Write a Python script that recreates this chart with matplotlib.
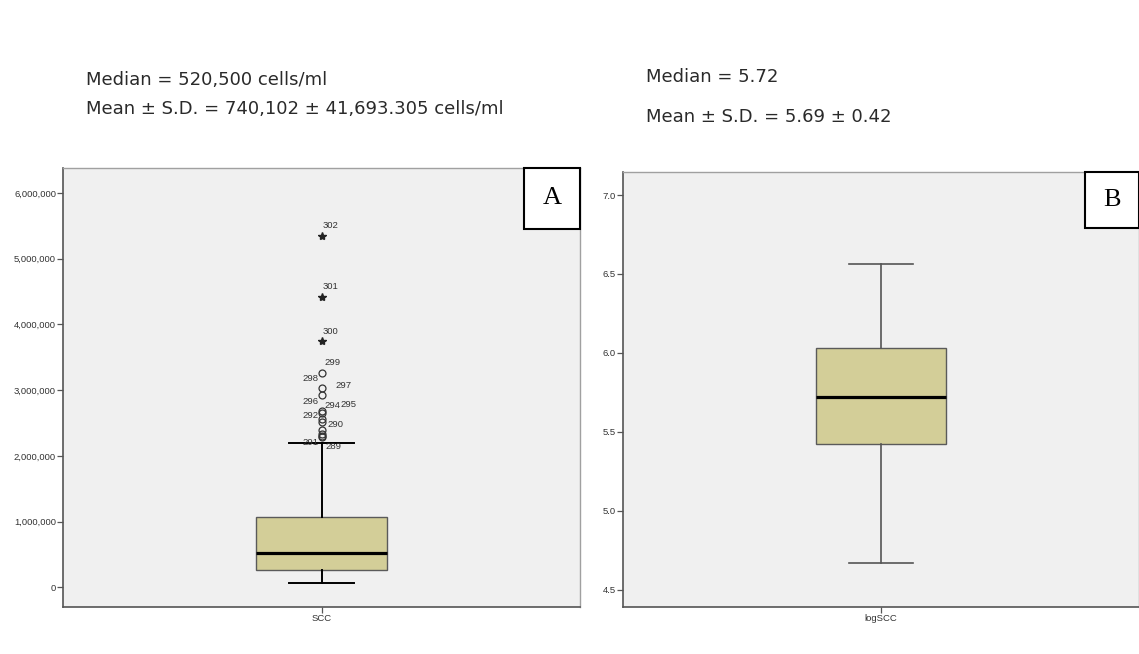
import matplotlib.pyplot as plt
from matplotlib.patches import Rectangle
from matplotlib.ticker import FuncFormatter

# panel A: SCC (cells/ml)
scc_box = dict(whislo=70000, q1=270000, med=520500, q3=1065000, whishi=2190000)
scc_circle_ids = [289, 290, 291, 292, 293, 294, 295, 296, 297, 298, 299]
scc_circle_vals = [2280000, 2300000, 2340000, 2390000, 2520000, 2560000,
                   2650000, 2690000, 2920000, 3030000, 3260000]
scc_star_ids = [300, 301, 302]
scc_star_vals = [3740000, 4410000, 5350000]
scc_ticks = [0, 1000000, 2000000, 3000000, 4000000, 5000000, 6000000]

# panel B: logSCC
log_box = dict(whislo=4.67, q1=5.42, med=5.72, q3=6.03, whishi=6.56)
log_ticks = [4.5, 5.0, 5.5, 6.0, 6.5, 7.0]

text_a = ["Median = 520,500 cells/ml", "Mean \u00b1 S.D. = 740,102 \u00b1 41,693.305 cells/ml"]
text_b = ["Median = 5.72", "Mean \u00b1 S.D. = 5.69 \u00b1 0.42"]

# label offsets in pixels (dx, dy, ha) per case id -- layout only
label_off = {
    302: (1, 10, "left"), 301: (1, 11, "left"), 300: (1, 10, "left"),
    299: (3, 11, "left"), 298: (-3, 10, "right"), 297: (14, 10, "left"),
    296: (-3, 9, "right"), 295: (19, 9, "left"), 294: (3, 14, "left"),
    292: (-3, 15, "right"), 291: (-3, -9, "right"), 290: (6, 12, "left"),
    289: (4, -9, "left"),
}

W, H = 1139, 654
fig = plt.figure(figsize=(W / 100, H / 100), dpi=100)
fig.patch.set_facecolor("white")

box_col = "#d3ce98"
tick_font = dict(family=["Liberation Sans", "DejaVu Sans"], size=6.8, color="#333333")


def style_axes(ax):
    ax.set_facecolor("#f0f0f0")
    for s in ["left", "bottom"]:
        ax.spines[s].set_color("#555555")
        ax.spines[s].set_linewidth(1.2)
    for s in ["top", "right"]:
        ax.spines[s].set_color("#a0a0a0")
        ax.spines[s].set_linewidth(1.0)
    ax.tick_params(axis="both", length=4, width=0.9, color="#555555", pad=1)
    ax.tick_params(axis="y", direction="out")
    ax.set_xlim(0, 2)


def draw_box(ax, stats, label, wcol, wlw):
    st = dict(stats)
    st["fliers"] = []
    st["label"] = label
    ax.bxp([st], positions=[1], widths=0.503, capwidths=0.248, patch_artist=True,
           showfliers=False,
           boxprops=dict(facecolor=box_col, edgecolor="#5a5a5a", linewidth=1.0),
           medianprops=dict(color="black", linewidth=2.3),
           whiskerprops=dict(color=wcol, linewidth=wlw),
           capprops=dict(color=wcol, linewidth=wlw))


def letter_box(ax, x0, y0, letter):
    ax.add_patch(Rectangle((x0, y0), 1 - x0, 1 - y0, transform=ax.transAxes,
                           facecolor="white", edgecolor="black", linewidth=1.5,
                           clip_on=False, zorder=5))
    ax.text((x0 + 1) / 2, (y0 + 1) / 2, letter, transform=ax.transAxes,
            ha="center", va="center", fontsize=19,
            family=["Liberation Serif", "DejaVu Serif"], zorder=6)


def style_ticklabels(ax):
    for t in ax.get_yticklabels() + ax.get_xticklabels():
        t.set_fontfamily(tick_font["family"])
        t.set_fontsize(tick_font["size"])
        t.set_color(tick_font["color"])


# ---- panel A
axA = fig.add_axes([63 / W, (H - 607) / H, (580 - 63) / W, (607 - 168) / H])
style_axes(axA)
draw_box(axA, scc_box, "SCC", "black", 1.4)
axA.plot([1] * len(scc_circle_vals), scc_circle_vals, "o", mfc="none", mec="#333333",
         ms=5, mew=0.9, zorder=4)
axA.plot([1] * len(scc_star_vals), scc_star_vals, "*", color="#222222", ms=6, zorder=4)
for cid, v in zip(scc_circle_ids + scc_star_ids, scc_circle_vals + scc_star_vals):
    if cid not in label_off:
        continue
    dx, dy, ha = label_off[cid]
    axA.annotate(str(cid), (1, v), xytext=(dx, dy), textcoords="offset pixels",
                 ha=ha, va="center", **tick_font)
axA.set_ylim(-300000, 6380000)
axA.set_yticks(scc_ticks)
axA.yaxis.set_major_formatter(FuncFormatter(lambda v, p: f"{int(v):,}"))
style_ticklabels(axA)
letter_box(axA, (524 - 63) / 517, (607 - 229) / 439, "A")

# ---- panel B
axB = fig.add_axes([623 / W, (H - 607) / H, (W - 623) / W, (607 - 172) / H])
style_axes(axB)
draw_box(axB, log_box, "logSCC", "#555555", 1.2)
axB.set_ylim(4.39, 7.146)
axB.set_yticks(log_ticks)
axB.yaxis.set_major_formatter(FuncFormatter(lambda v, p: f"{v:.1f}"))
style_ticklabels(axB)
letter_box(axB, (1085 - 623) / 516, (607 - 228) / 435, "B")

# ---- summary text
txt_font = dict(family=["DejaVu Sans"], fontsize=13, color="#2a2a2a")
fig.text(86 / W, 1 - 80 / H, text_a[0], va="center", **txt_font)
fig.text(86 / W, 1 - 109 / H, text_a[1], va="center", **txt_font)
fig.text(646 / W, 1 - 77 / H, text_b[0], va="center", **txt_font)
fig.text(646 / W, 1 - 117 / H, text_b[1], va="center", **txt_font)

fig.savefig("out.png", dpi=100)
